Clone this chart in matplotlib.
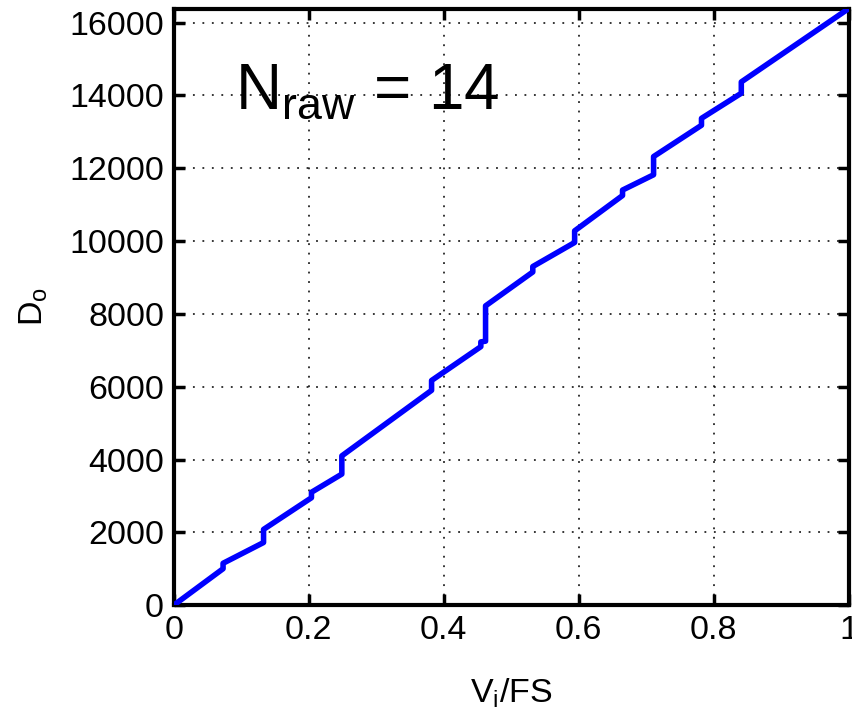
import matplotlib
matplotlib.use('Agg')
import matplotlib.pyplot as plt
import numpy as np

plt.rcParams['font.family'] = ['Liberation Sans', 'DejaVu Sans']
plt.rcParams['mathtext.fontset'] = 'custom'
plt.rcParams['mathtext.rm'] = 'Liberation Sans'
plt.rcParams['mathtext.it'] = 'Liberation Sans'

# transfer curve: linear runs broken by code jumps
jump_x = [0.073, 0.133, 0.204, 0.249, 0.382, 0.455, 0.462, 0.532,
          0.594, 0.665, 0.711, 0.782, 0.841]
code_before = [1000, 1720, 2950, 3600, 5900, 7100, 7250, 9150,
               9960, 11250, 11820, 13180, 14060]
code_after = [1150, 2080, 3100, 4100, 6170, 7230, 8220, 9300,
              10280, 11400, 12320, 13370, 14370]
x_end, code_end = 1.0, 16383

xs, ys = [0.0], [0.0]
for jx, yb, ya in zip(jump_x, code_before, code_after):
    xs += [jx, jx]; ys += [yb, ya]
xs.append(x_end); ys.append(code_end)

fig = plt.figure(figsize=(8.52, 7.17), dpi=100)
ax = fig.add_axes([0.204, 0.156, 0.792, 0.832])
ax.plot(xs, ys, color='#0000ff', lw=4, solid_joinstyle='round',
        solid_capstyle='round', zorder=3)

ax.set_xlim(0, 1)
ax.set_ylim(0, 16384)
ax.set_xticks(np.arange(0, 1.01, 0.2))
ax.set_xticklabels(['0', '0.2', '0.4', '0.6', '0.8', '1'])
ax.set_yticks(np.arange(0, 16001, 2000))
ax.grid(True, color='black', linestyle=(0, (1.2, 5)), lw=1.1)
ax.tick_params(direction='in', length=8, width=2.5, labelsize=24.5,
               top=True, right=True, pad=7)
for s in ax.spines.values():
    s.set_linewidth(3)

ax.set_xlabel(r'V$_\mathrm{i}$/FS', fontsize=24.5, labelpad=22)
ax.set_ylabel(r'D$_\mathrm{o}$', fontsize=24.5, labelpad=14)
ax.text(0.09, 13620, r'N$_\mathrm{raw}$ = 14', fontsize=46)

fig.savefig('out.png', dpi=100)
